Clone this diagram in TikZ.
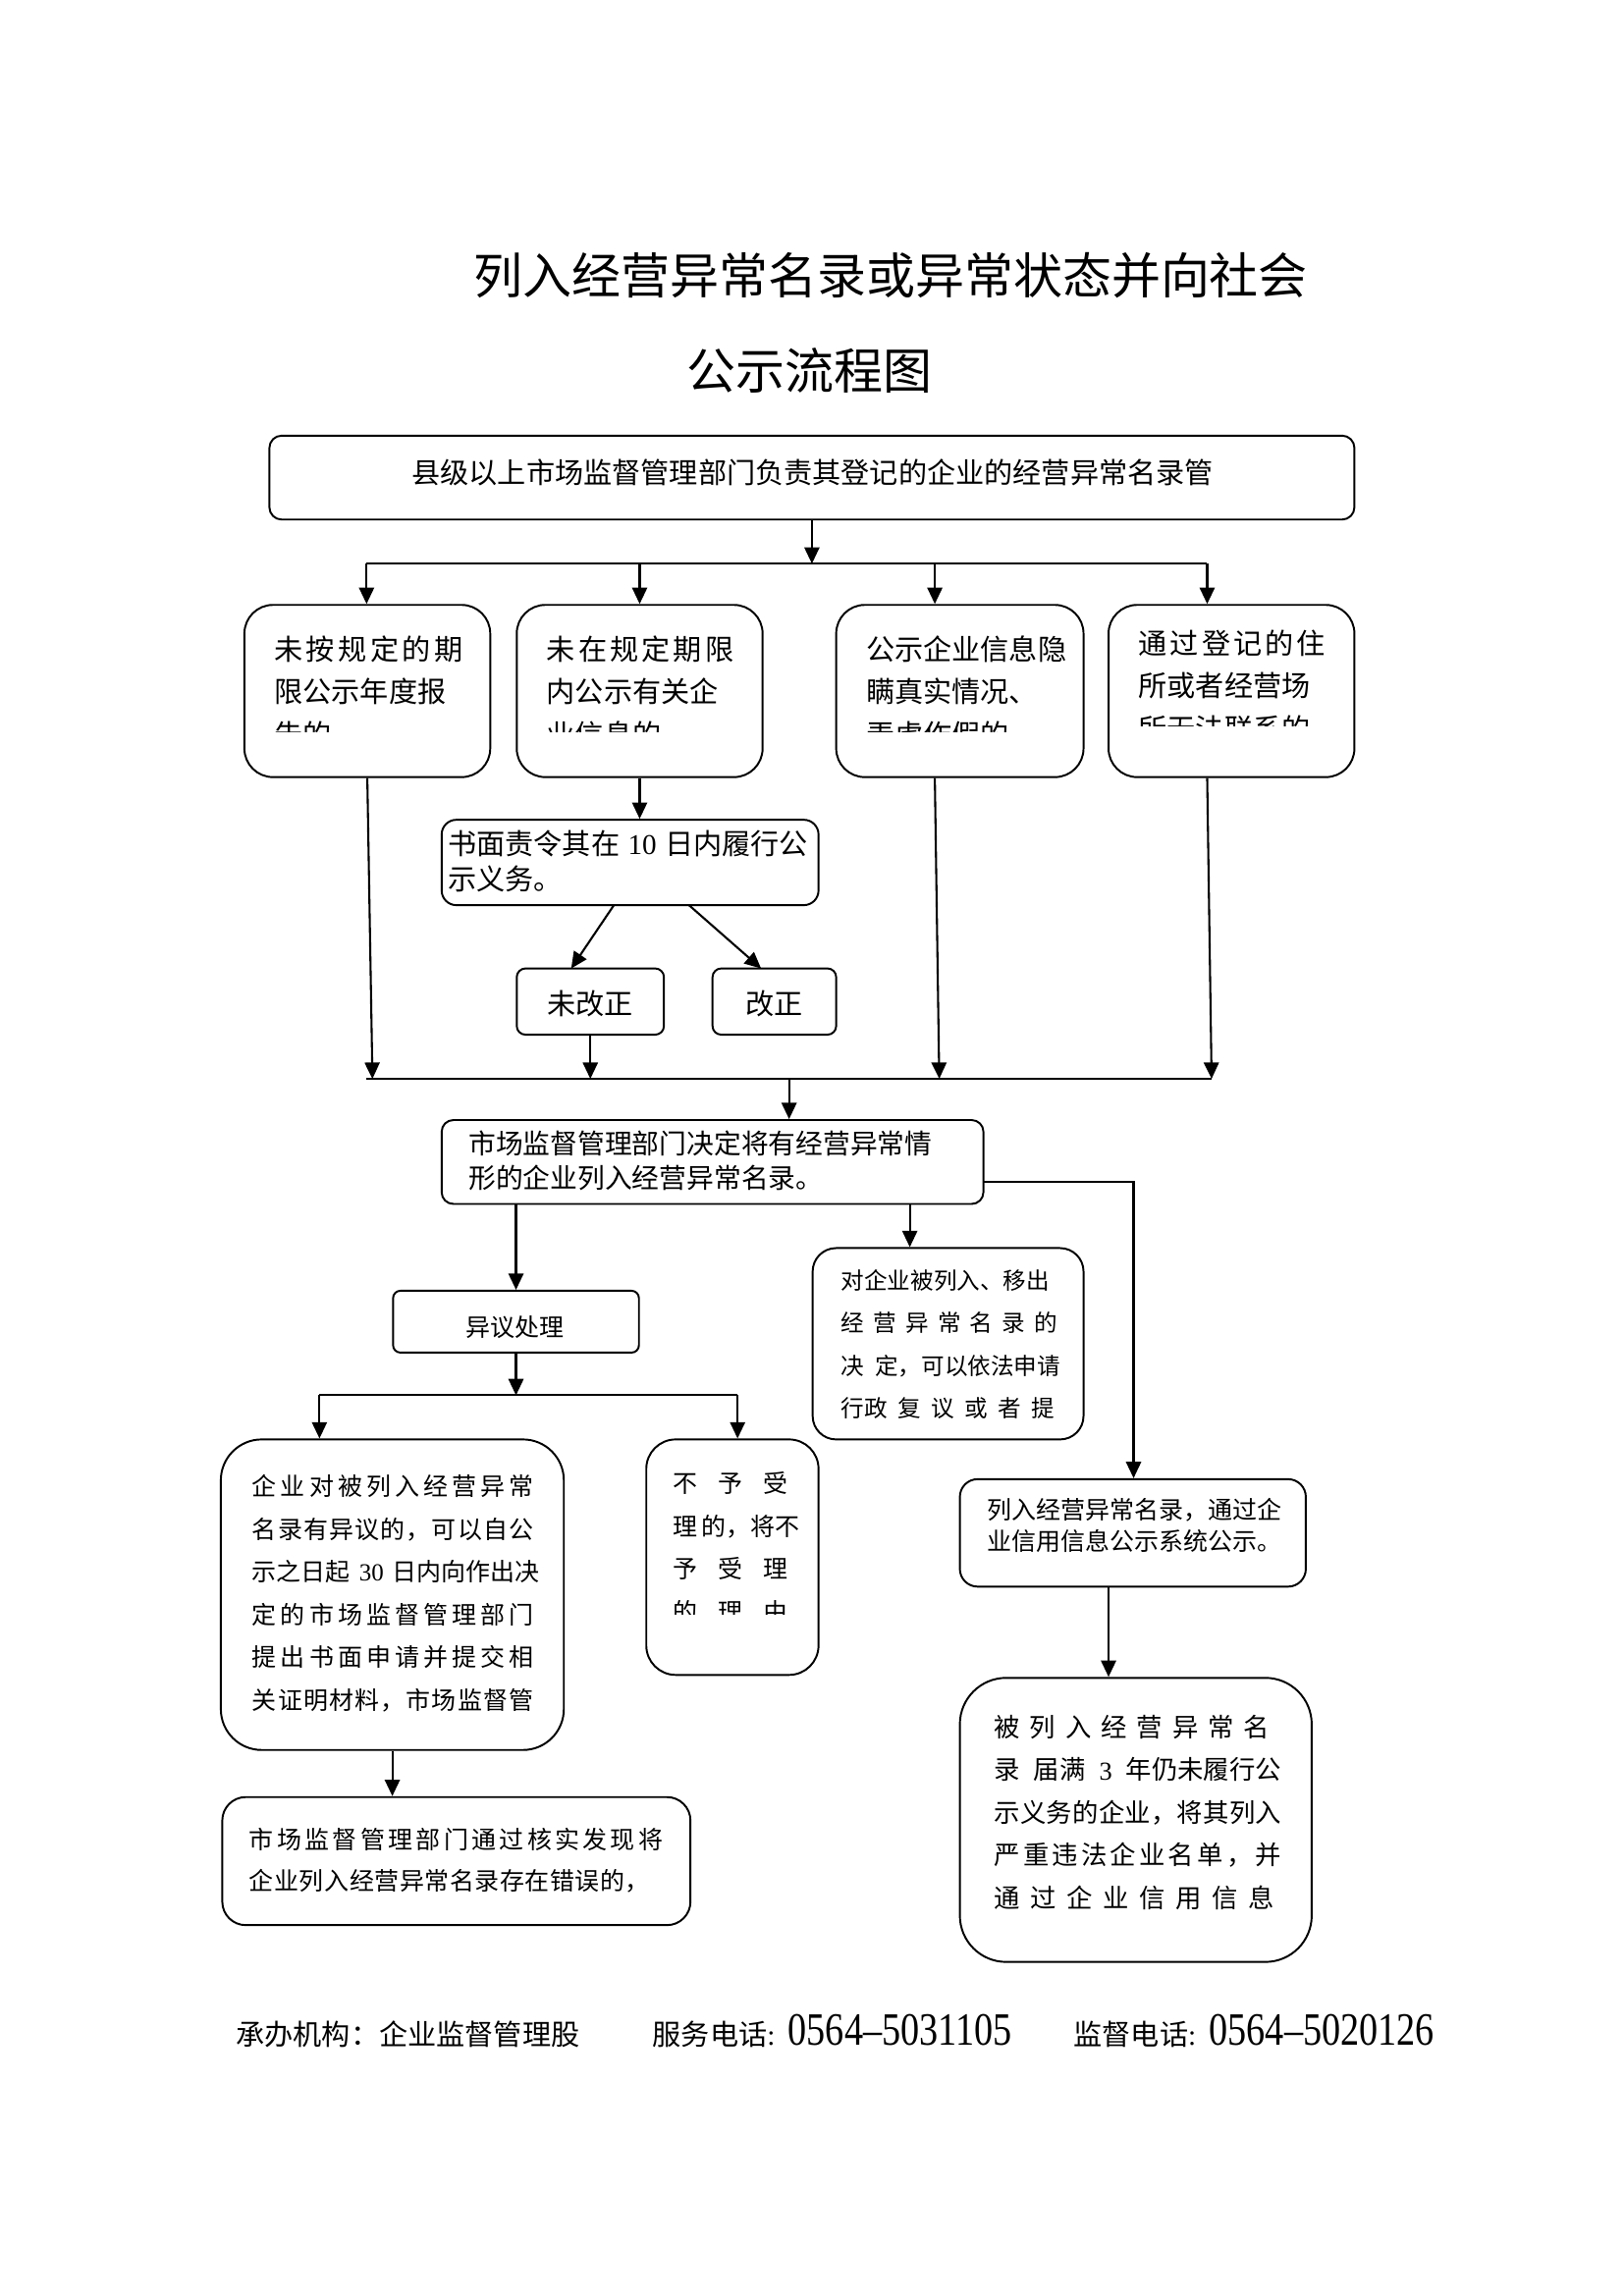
\documentclass[tikz,border=0pt]{standalone}
\usepackage{fontspec}
\usepackage{graphicx}
\setmainfont{Noto Sans CJK SC}
\newfontfamily\lat{Liberation Serif}
\usetikzlibrary{arrows.meta}
\newdimen\dpx \dpx=0.54pt
\newcommand\setfs[2]{\fontsize{#1pt}{#2pt}\selectfont}
\makeatletter
\newcommand\spr[2]{\leavevmode\hbox to #1\dpx{\spr@#2\relax}}
\def\spr@#1{\ifx\relax#1\unskip\else#1\hfil\expandafter\spr@\fi}
\makeatother
\tikzset{
  box/.style={draw, line width=0.7pt, inner sep=0pt},
  bx/.style 2 args={minimum width=#1*0.54pt, minimum height=#2*0.54pt},
  txt/.style={inner sep=0pt, align=left, anchor=west},
  ctxt/.style={inner sep=0pt, anchor=center},
  arr/.style={line width=0.75pt, -{Triangle[length=6pt,width=5.5pt]}},
  ln/.style={line width=0.75pt},
}
\begin{document}
\begin{tikzpicture}[x=0.54pt,y=-0.54pt]
\fill[white] (0,0) rectangle (1103,1560);
\useasboundingbox (0,0) rectangle (1103,1560);

% title
\node[ctxt, font=\setfs{18}{18}] (t1) at (605,187) {列入经营异常名录或异常状态并向社会};
\node[ctxt, font=\setfs{18}{18}] (t2) at (550,252) {公示流程图};

% boxes
\node[box, bx={737}{57}, rounded corners=4.5pt] (A) at (551.5,324.5) {};
\node[ctxt, font=\setfs{10.5}{13}] (At) at (552,321) {县级以上市场监督管理部门负责其登记的企业的经营异常名录管};

\node[box, bx={167}{117}, rounded corners=10.5pt] (B1) at (249.5,469.5) {};
\node[box, bx={167}{117}, rounded corners=10.5pt] (B2) at (434.5,469.5) {};
\node[box, bx={168}{117}, rounded corners=10.5pt] (B3) at (652,469.5) {};
\node[box, bx={167}{117}, rounded corners=10.5pt] (B4) at (836.5,469.5) {};

\begin{scope}
\clip (167,412) rectangle (332,497);
\node[txt, font=\setfs{10.5}{15.66}] (B1t) at (186,470) {\spr{128}{未按规定的期}\\限公示年度报\\告的.};
\end{scope}
\begin{scope}
\clip (352,412) rectangle (517,497);
\node[txt, font=\setfs{10.5}{15.66}] (B2t) at (371,470) {\spr{127}{未在规定期限}\\内公示有关企\\业信息的.};
\end{scope}
\begin{scope}
\clip (569,412) rectangle (735,497);
\node[txt, font=\setfs{10.5}{15.66}] (B3t) at (588,470) {公示企业信息隐\\瞒真实情况、\\弄虚作假的.};
\end{scope}
\begin{scope}
\clip (754,412) rectangle (919,493);
\node[txt, font=\setfs{10.5}{15.66}] (B4t) at (773,466) {\spr{127}{通过登记的住}\\所或者经营场\\所无法联系的.};
\end{scope}

\node[box, bx={256}{58}, rounded corners=5.4pt] (C) at (428,586) {};
\node[txt, font=\setfs{10.5}{12.96}] (Ct) at (304,585) {书面责令其在\hspace{3pt}{\lat 10}\hspace{3pt}日内履行公\\示义务。};

\node[box, bx={100}{45}, rounded corners=3.2pt] (D1) at (401,680.5) {};
\node[ctxt, font=\setfs{10.5}{12}] (D1t) at (401,682) {未改正};
\node[box, bx={84}{45}, rounded corners=3.2pt] (D2) at (526,680.5) {};
\node[ctxt, font=\setfs{10.5}{12}] (D2t) at (526,682) {改正};

\node[box, bx={368}{57}, rounded corners=4.3pt] (E) at (484,789.5) {};
\node[txt, font=\setfs{10}{12.42}] (Et) at (318,788.5) {市场监督管理部门决定将有经营异常情\\形的企业列入经营异常名录。};

\node[box, bx={167}{42}, rounded corners=2.7pt] (F) at (350.5,898) {};
\node[ctxt, font=\setfs{9}{10}] (Ft) at (350,902) {异议处理};

\node[box, bx={184}{130}, rounded corners=8.6pt] (G) at (644,913) {};
\node[txt, font=\setfs{8.5}{15.66}] (Gt) at (571,913.5) {对企业被列入、移出\\\spr{147}{经营异常名录的}\\\leavevmode\hbox to 149\dpx{决\hfil 定，可以依法申请}\\\spr{145}{{行政}复议或者提}};

\node[box, bx={235}{73}, rounded corners=6.5pt] (H) at (769.5,1041.5) {};
\node[txt, font=\setfs{9}{11.34}] (Ht) at (670,1036.5) {列入经营异常名录，通过企\\业信用信息公示系统公示。};

\node[box, bx={233}{211}, rounded corners=15pt] (I) at (266.5,1083.5) {};
\node[txt, font=\setfs{9}{15.66}] (It) at (171,1082.5) {\spr{191}{企业对被列入经营异常}\\\spr{191}{名录有异议的，可以自公}\\示之日起\hspace{3.2pt}{\lat 30}\hspace{3.2pt}日内向作出决\\\spr{191}{定的市场监督管理部门}\\\spr{191}{提出书面申请并提交相}\\\spr{191}{关证明材料，市场监督管}};

\node[box, bx={117}{160}, rounded corners=10.8pt] (J) at (497.5,1058) {};
\begin{scope}
\clip (440,979) rectangle (555,1097);
\node[txt, font=\setfs{9}{15.66}] (Jt) at (457,1051.5) {\spr{78}{不予受}\\\leavevmode\hbox to 86\dpx{理\hfil 的，将不}\\\spr{78}{予受理}\\\spr{78}{的理由}};
\end{scope}

\node[box, bx={239}{193}, rounded corners=17pt] (K) at (771.5,1236.5) {};
\node[txt, font=\setfs{9.5}{15.66}] (Kt) at (675,1231.5) {\spr{187}{被列入经营异常名}\\\leavevmode\hbox to 195\dpx{录\hfil 届满\hfil{\lat 3}\hfil 年仍未履行公}\\\spr{195}{示义务的企业，将其列入}\\\spr{195}{严重违法企业名单，并}\\\spr{190}{通过企业信用信息}};

\node[box, bx={318}{87}, rounded corners=8.6pt] (L) at (310,1264.5) {};
\node[txt, font=\setfs{9}{15.12}] (Lt) at (169,1264) {\spr{281}{市场监督管理部门通过核实发现将}\\\spr{272}{企业列入经营异常名录存在错误的，}};

% footer
\node[txt, font=\setfs{10.5}{12}] (f1) at (160,1382) {承办机构：企业监督管理股};
\node[txt, font=\setfs{10.5}{12}] (f2) at (443,1382) {服务电话{\lat:}};
\node[txt, font=\lat\setfs{17}{17}] (f3) at (535,1379) {\scalebox{0.81}[1]{0564–5031105}};
\node[txt, font=\setfs{10.5}{12}] (f4) at (729,1382) {监督电话{\lat:}};
\node[txt, font=\lat\setfs{17}{17}] (f5) at (821,1379) {\scalebox{0.81}[1]{0564–5020126}};

% connector coordinates
\coordinate (bus1L) at (249,383);
\coordinate (bus1R) at (820,383);
\coordinate (b3in) at (635,383);
\coordinate (bus2L) at (249,733);
\coordinate (bus2R) at (823,733);
\coordinate (p1) at (253,733);
\coordinate (p3) at (638,733);
\coordinate (p4) at (823,733);
\coordinate (ein) at (536,733);
\coordinate (c1) at (417,615);
\coordinate (c2) at (468,615);
\coordinate (d1in) at (388,658);
\coordinate (d2in) at (517,658);
\coordinate (eR) at (668,803);
\coordinate (hk) at (770,803);
\coordinate (eg) at (618,818);
\coordinate (bus3L) at (217,948);
\coordinate (bus3R) at (501,948);
\coordinate (hs) at (753,1078);

% connectors
\draw[ln] (bus1L) -- (bus1R);
\draw[arr] (A.south) -- (A.south |- bus1L);
\draw[arr] (bus1L) -- (bus1L |- B1.north);
\draw[arr] (B2.north |- bus1L) -- (B2.north);
\draw[arr] (b3in) -- (b3in |- B3.north);
\draw[arr] (bus1R) -- (bus1R |- B4.north);

\draw[arr] (B1.south) -- (p1);
\draw[arr] (B2.south) -- (B2.south |- C.north);
\draw[arr] (b3in |- B3.south) -- (p3);
\draw[arr] (bus1R |- B4.south) -- (p4);

\draw[arr] (c1) -- (d1in);
\draw[arr] (c2) -- (d2in);
\draw[arr] (D1.south) -- (D1.south |- bus2L);

\draw[ln] (bus2L) -- (bus2R);
\draw[arr] (ein) -- (ein |- E.north);

\draw[arr] (eR) -- (hk) -- (hk |- H.north);
\draw[arr] (eg) -- (eg |- G.north);
\draw[arr] (F.north |- E.south) -- (F.north);
\draw[arr] (F.south) -- (F.south |- bus3L);
\draw[ln] (bus3L) -- (bus3R);
\draw[arr] (bus3L) -- (bus3L |- I.north);
\draw[arr] (bus3R) -- (bus3R |- J.north);
\draw[arr] (hs) -- (hs |- K.north);
\draw[arr] (I.south) -- (I.south |- L.north);
\end{tikzpicture}
\end{document}
